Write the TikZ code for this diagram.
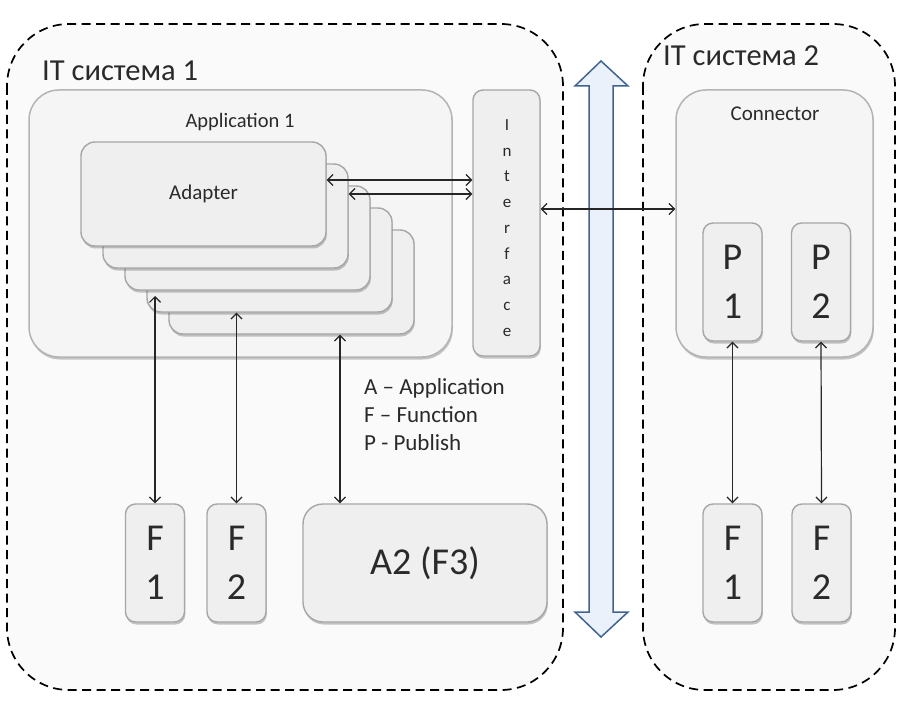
\documentclass[tikz,border=0pt]{standalone}
\usepackage{fontspec}
\setmainfont{Carlito}
\usetikzlibrary{arrows.meta,shadows,calc}
\definecolor{sysfill}{HTML}{FAFAFA}
\definecolor{appfill}{HTML}{F5F5F5}
\definecolor{appdraw}{HTML}{B4B4B4}
\definecolor{boxfill}{HTML}{EFEFEF}
\definecolor{boxdraw}{HTML}{A6A6A6}
\definecolor{txt}{HTML}{2A2A2A}
\definecolor{bluefill}{HTML}{EAF1FA}
\definecolor{bluedraw}{HTML}{41648F}
\tikzset{
  sysbox/.style={draw=black, fill=sysfill, line width=1.7pt, dash pattern=on 9pt off 5.5pt, rounded corners=62pt},
  sh/.style={drop shadow={shadow xshift=0.8pt, shadow yshift=-2.5pt, opacity=0.22, fill=black}},
  container/.style={draw=appdraw, fill=appfill, line width=1.5pt, rounded corners=30pt, sh, inner sep=0pt},
  adbox/.style={draw=boxdraw, fill=boxfill, line width=1.4pt, rounded corners=14pt, sh, minimum width=245pt, minimum height=104pt, inner sep=0pt},
  smallbox/.style={draw=boxdraw, fill=boxfill, line width=1.4pt, rounded corners=10pt, sh, minimum width=59pt, minimum height=118pt, inner sep=0pt, align=center, text=txt, font=\fontsize{38}{49}\selectfont},
  lbl/.style={text=txt, inner sep=0pt},
  arr/.style={draw=black!85, line width=1.2pt, {Straight Barb[length=5.5pt,width=11pt]}-{Straight Barb[length=5.5pt,width=11pt]}},
}
\begin{document}
\begin{tikzpicture}[x=1pt,y=-1pt]
\useasboundingbox (0,0) rectangle (904,703);
% systems
\draw[sysbox] (7,24) rectangle (563,690);
\draw[sysbox] (643,24) rectangle (895,690);
\node[lbl, anchor=base west, font=\fontsize{30.5}{34}\selectfont] (s1) at (42,81) {IT система 1};
\node[lbl, anchor=base west, font=\fontsize{30.5}{34}\selectfont] (s2) at (663,66) {IT система 2};
% application 1
\node[container, minimum width=423pt, minimum height=267pt] (app) at (240.5,223.5) {};
\node[lbl, font=\fontsize{20.5}{24}\selectfont] (applbl) at (240,122) {Application 1};
% adapter stack
\node[adbox] (ad5) at (291.5,282) {};
\node[adbox] (ad4) at (269.5,260) {};
\node[adbox] (ad3) at (247.5,238) {};
\node[adbox] (ad2) at (225.5,216) {};
\node[adbox, text=txt, font=\fontsize{21}{24}\selectfont] (ad1) at (203.5,194) {Adapter};
% interface
\node[draw=boxdraw, fill=boxfill, line width=1.4pt, rounded corners=10pt, sh, minimum width=67pt, minimum height=266pt, inner sep=0pt] (iface) at (506.5,223) {};
\node[lbl, align=center, font=\fontsize{17}{25.7}\selectfont] (ifacelbl) at (507,228) {I\\n\\t\\e\\r\\f\\a\\c\\e};
% connector
\node[container, minimum width=197pt, minimum height=267pt] (conn) at (774.5,223.5) {};
\node[lbl, font=\fontsize{21}{24}\selectfont] (connlbl) at (775,114) {Connector};
\node[smallbox] (p1) at (732.5,282) {P\\1};
\node[smallbox] (p2) at (821,282) {P\\2};
% functions
\node[smallbox] (f1) at (155,563) {F\\1};
\node[smallbox] (f2) at (236.5,563) {F\\2};
\node[smallbox, minimum width=244pt, rounded corners=20pt] (a2) at (425,563) {A2 (F3)};
\node[smallbox] (g1) at (732.5,563) {F\\1};
\node[smallbox] (g2) at (821.5,563) {F\\2};
% legend
\node[lbl, anchor=north west, align=left, font=\fontsize{23}{28}\selectfont] (legend) at (364,378) {A – Application\\F – Function\\P - Publish};
% blue arrow
\draw[draw=bluedraw, fill=bluefill, line width=1.5pt, line join=miter]
  (601,61) -- (628,86) -- (613,86) -- (613,612) -- (628,612) -- (601,637)
  -- (575,612) -- (589,612) -- (589,86) -- (575,86) -- cycle;
% connectors
\draw[arr] (ad1.east |- 0,180) -- (iface.west |- 0,180);
\draw[arr] (ad2.east |- 0,194) -- (iface.west |- 0,194);
\draw[arr] (iface.east |- 0,209) -- (conn.west |- 0,209);
\draw[arr] (f1.north |- 0,296) -- (f1.north);
\draw[arr] (f2.north |- ad4.south) -- (f2.north);
\draw[arr] (ad5.south -| 340,0) -- (a2.north -| 340,0);
\draw[arr] (p1.south) -- (g1.north);
\draw[arr] (p2.south) -- (g2.north);
\end{tikzpicture}
\end{document}
